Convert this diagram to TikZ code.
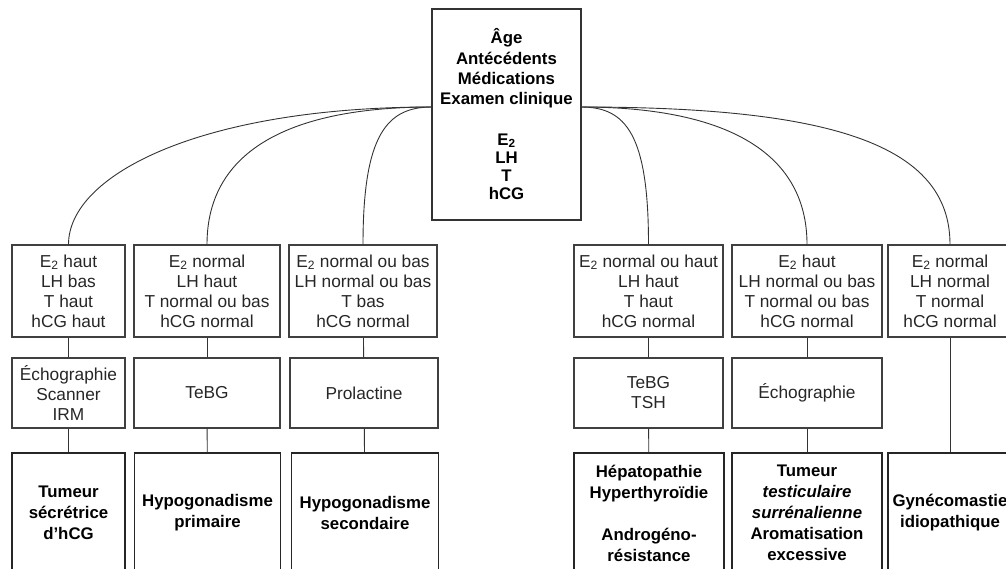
\documentclass[tikz,border=0pt]{standalone}
\usepackage{fontspec}
\setmainfont{Liberation Sans}
\usetikzlibrary{positioning}

\begin{document}
\begin{tikzpicture}[
  x=1pt, y=-1pt,
  every node/.style={font=\fontsize{17.3}{20}\selectfont, align=center, inner sep=2pt},
  crit/.style={draw=black!75, line width=1.1pt, text=black!85, minimum height=92pt},
  exam/.style={draw=black!75, line width=1.1pt, text=black!85, minimum height=70pt},
  diag/.style={draw=black!85, line width=1.5pt, font=\fontsize{16.8}{21}\selectfont\bfseries, minimum height=120pt},
  link/.style={draw=black!80, line width=0.9pt}
]
  \useasboundingbox (0,0) rectangle (1006,569);
  \clip (0,0) rectangle (1006,569);

  \node[draw=black!80, line width=1.5pt, minimum width=149pt, minimum height=211pt,
        font=\fontsize{16.8}{20.3}\selectfont\bfseries] (top) at (506.5,114.5) {
    Âge\\Antécédents\\Médications\\Examen clinique\\[20pt]
    E\textsubscript{2}\\[-2pt]LH\\[-2pt]T\\[-2pt]hCG
  };
  \coordinate (tl) at (432,107);
  \coordinate (tr) at (581,107);

  \node[crit, minimum width=113pt] (c1) at (68.5,291) {E\textsubscript{2} haut\\LH bas\\T haut\\hCG haut};
  \node[crit, minimum width=146pt] (c2) at (207,291) {E\textsubscript{2} normal\\LH haut\\T normal ou bas\\hCG normal};
  \node[crit, minimum width=148pt] (c3) at (363,291) {E\textsubscript{2} normal ou bas\\LH normal ou bas\\T bas\\hCG normal};
  \node[crit, minimum width=149pt] (c4) at (648.5,291) {E\textsubscript{2} normal ou haut\\LH haut\\T haut\\hCG normal};
  \node[crit, minimum width=150pt] (c5) at (807,291) {E\textsubscript{2} haut\\LH normal ou bas\\T normal ou bas\\hCG normal};
  \node[crit, minimum width=124pt] (c6) at (950,291) {E\textsubscript{2} normal\\LH normal\\T normal\\hCG normal};

  \node[exam, minimum width=113pt] (e1) at (68.5,393) {Échographie\\Scanner\\IRM};
  \node[exam, minimum width=146pt] (e2) at (207,393) {TeBG};
  \node[exam, minimum width=148pt] (e3) at (364,393) {Prolactine};
  \node[exam, minimum width=149pt] (e4) at (648.5,393) {TeBG\\TSH};
  \node[exam, minimum width=150pt] (e5) at (807,393) {Échographie};

  \node[diag, minimum width=113pt] (d1) at (68.5,513) {Tumeur\\sécrétrice\\d'hCG};
  \node[diag, minimum width=146pt] (d2) at (207.5,513) {Hypogonadisme\\primaire};
  \node[diag, minimum width=147pt] (d3) at (365,513) {Hypogonadisme\\secondaire};
  \node[diag, minimum width=150pt] (d4) at (649,513) {Hépatopathie\\Hyperthyroïdie\\[21pt]Androgéno-\\résistance};
  \node[diag, minimum width=150pt] (d5) at (807,513) {Tumeur\\\textit{testiculaire}\\\textit{surrénalienne}\\Aromatisation\\excessive};
  \node[diag, minimum width=124pt] (d6) at (950,513) {Gynécomastie\\idiopathique};

  \draw[link] (tl) .. controls +(-230,0) and +(0,-70) .. (c1.north);
  \draw[link] (tl) .. controls +(-140,0) and +(0,-95) .. (c2.north);
  \draw[link] (tl) .. controls +(-45,0) and +(0,-110) .. (c3.north);
  \draw[link] (tr) .. controls +(45,0) and +(0,-110) .. (c4.north);
  \draw[link] (tr) .. controls +(140,0) and +(0,-95) .. (c5.north);
  \draw[link] (tr) .. controls +(250,0) and +(0,-100) .. (c6.north);

  \draw[link] (c1) -- (e1);
  \draw[link] (c2) -- (e2);
  \draw[link] (c3) -- (e3);
  \draw[link] (c4) -- (e4);
  \draw[link] (c5) -- (e5);
  \draw[link] (e1) -- (d1);
  \draw[link] (e2) -- (d2);
  \draw[link] (e3) -- (d3);
  \draw[link] (e4) -- (d4);
  \draw[link] (e5) -- (d5);
  \draw[link] (c6) -- (d6);
\end{tikzpicture}
\end{document}
